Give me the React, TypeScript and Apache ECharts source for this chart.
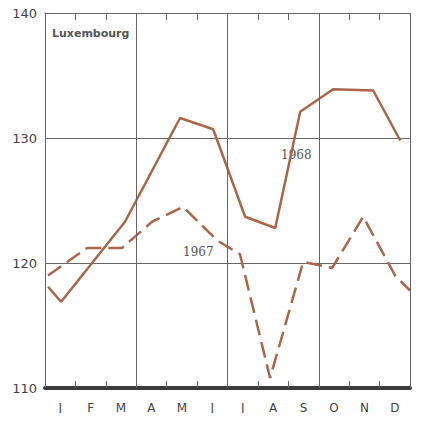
import React, { useEffect, useRef } from "react";
import * as echarts from "echarts";

const months = ["J", "F", "M", "A", "M", "J", "J", "A", "S", "O", "N", "D"];
// [month position, index value]
const series1968: [number, number][] = [
  [0.1, 118.1], [0.53, 116.9], [2.63, 123.3], [4.44, 131.6], [5.53, 130.7],
  [6.58, 123.7], [7.57, 122.8], [8.39, 132.1], [9.47, 133.9], [10.79, 133.8], [11.68, 129.8],
];
const series1967: [number, number][] = [
  [0.1, 119.0], [1.38, 121.2], [2.53, 121.2], [3.52, 123.3], [4.54, 124.5],
  [5.66, 121.8], [6.41, 120.7], [7.4, 110.8], [8.49, 120.1], [9.44, 119.6],
  [10.46, 123.7], [11.51, 119.0], [12, 117.8],
];
const quarterLines = [3, 6, 9, 12];

const brown = "#a8664a";
const gridColor = "#666";

const App: React.FC = () => {
  const ref = useRef<HTMLDivElement>(null);
  useEffect(() => {
    const chart = echarts.init(ref.current as HTMLDivElement, null, { renderer: "svg" });
    const option: echarts.EChartsOption = {
      animation: false,
      grid: { left: 45, right: 11, top: 13, bottom: 33 },
      xAxis: [
        {
          type: "value",
          min: 0,
          max: 12,
          interval: 1,
          axisLine: { show: true, lineStyle: { color: "#3a3a3a", width: 4 } },
          axisTick: { show: true, inside: true, length: 7, lineStyle: { color: gridColor } },
          axisLabel: { show: false },
          splitLine: { show: false },
        },
        {
          type: "category",
          data: months,
          position: "bottom",
          boundaryGap: true,
          axisLine: { show: false },
          axisTick: { show: false },
          axisLabel: { color: "#444", fontFamily: "DejaVu Sans", fontSize: 12, margin: 14 },
        },
        {
          type: "value",
          min: 0,
          max: 12,
          interval: 1,
          position: "top",
          axisLine: { show: true, lineStyle: { color: gridColor, width: 1 } },
          axisTick: { show: true, inside: true, length: 7, lineStyle: { color: gridColor } },
          axisLabel: { show: false },
          splitLine: { show: false },
        },
      ],
      yAxis: {
        type: "value",
        min: 110,
        max: 140,
        interval: 10,
        axisLine: { show: true, lineStyle: { color: gridColor, width: 1 } },
        axisTick: { show: false },
        axisLabel: { color: "#444", fontFamily: "DejaVu Sans", fontSize: 13, margin: 8 },
        splitLine: { show: true, lineStyle: { color: gridColor, width: 1 } },
      },
      graphic: [
        { type: "text", left: 52, top: 28, style: { text: "Luxembourg", fontFamily: "DejaVu Sans", fontWeight: "bold", fontSize: 11, fill: "#555" } },
        { type: "text", left: 281, top: 149, style: { text: "1968", fontFamily: "DejaVu Serif", fontSize: 12, fill: "#555" } },
        { type: "text", left: 183, top: 246, style: { text: "1967", fontFamily: "DejaVu Serif", fontSize: 12, fill: "#555" } },
      ],
      series: [
        {
          name: "1968",
          type: "line",
          data: series1968,
          symbol: "none",
          lineStyle: { color: brown, width: 2.5 },
          markLine: {
            silent: true,
            symbol: "none",
            label: { show: false },
            lineStyle: { color: gridColor, width: 1, type: "solid" },
            data: quarterLines.map((x) => ({ xAxis: x })),
          },
          z: 3,
        },
        {
          name: "1967",
          type: "line",
          data: series1967,
          symbol: "none",
          lineStyle: { color: brown, width: 2.5, type: [16, 7] },
          z: 3,
        },
      ],
    };
    chart.setOption(option);
    return () => chart.dispose();
  }, []);
  return <div ref={ref} style={{ width: 421, height: 421, margin: -8 }} />;
};

export default App;
